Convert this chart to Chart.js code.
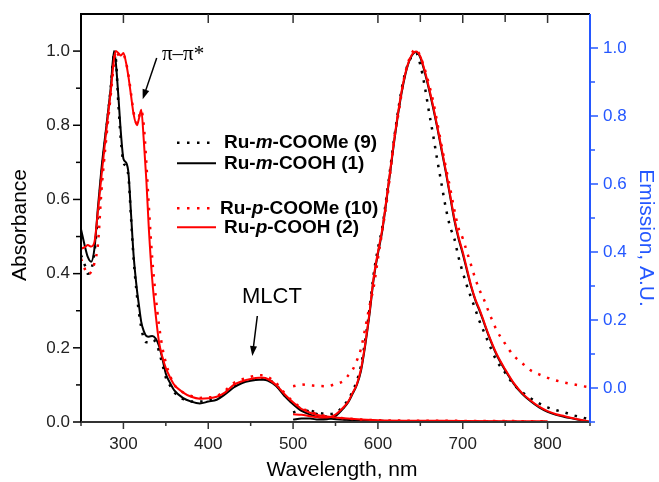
<!DOCTYPE html>
<html>
<head>
<meta charset="utf-8">
<script src="https://cdn.jsdelivr.net/npm/chart.js@4"></script>
<style>
  html, body { margin: 0; padding: 0; background: #fff; }
  canvas { display: block; }
</style>
</head>
<body>
<canvas id="spectraChart" width="659" height="482"></canvas>
<script>
// absorbance spectra (left axis)
const absWavelength = [250, 255, 258, 262, 266, 270, 274, 280, 285, 289, 291, 294, 297, 300, 303, 306, 309, 312, 316, 318, 321, 324, 327, 330, 334, 338, 342, 346, 350, 355, 360, 370, 380, 390, 400, 410, 420, 430, 440, 450, 460, 465, 470, 480, 490, 500, 510, 520, 530, 540, 560, 600, 700, 800];
const absMCOOMe = [0.45, 0.42, 0.40, 0.41, 0.46, 0.56, 0.66, 0.79, 0.90, 0.99, 0.98, 0.86, 0.76, 0.70, 0.69, 0.66, 0.55, 0.44, 0.34, 0.30, 0.255, 0.225, 0.215, 0.215, 0.222, 0.215, 0.19, 0.155, 0.12, 0.098, 0.08, 0.062, 0.055, 0.055, 0.058, 0.065, 0.08, 0.098, 0.108, 0.114, 0.117, 0.117, 0.115, 0.10, 0.072, 0.05, 0.035, 0.028, 0.02, 0.014, 0.008, 0.003, 0.001, 0.0];
const absMCOOH = [0.52, 0.47, 0.445, 0.432, 0.47, 0.58, 0.68, 0.80, 0.90, 1.0, 0.97, 0.88, 0.78, 0.71, 0.70, 0.67, 0.56, 0.45, 0.355, 0.32, 0.27, 0.245, 0.232, 0.23, 0.232, 0.225, 0.205, 0.17, 0.13, 0.105, 0.085, 0.065, 0.055, 0.05, 0.055, 0.06, 0.075, 0.093, 0.105, 0.111, 0.114, 0.114, 0.112, 0.097, 0.07, 0.048, 0.03, 0.02, 0.013, 0.01, 0.006, 0.003, 0.001, 0.0];
const absPCOOMe = [0.44, 0.41, 0.398, 0.405, 0.43, 0.48, 0.62, 0.77, 0.88, 0.97, 1.0, 0.99, 0.985, 0.99, 0.97, 0.935, 0.885, 0.835, 0.805, 0.82, 0.84, 0.80, 0.70, 0.58, 0.44, 0.34, 0.26, 0.20, 0.16, 0.125, 0.10, 0.08, 0.07, 0.065, 0.066, 0.07, 0.085, 0.105, 0.115, 0.122, 0.126, 0.126, 0.122, 0.105, 0.078, 0.055, 0.038, 0.028, 0.02, 0.016, 0.01, 0.005, 0.003, 0.002];
const absPCOOH = [0.467, 0.472, 0.477, 0.473, 0.487, 0.57, 0.66, 0.79, 0.89, 0.98, 1.0, 0.995, 0.988, 0.995, 0.97, 0.93, 0.88, 0.83, 0.80, 0.815, 0.842, 0.76, 0.653, 0.52, 0.383, 0.29, 0.215, 0.175, 0.145, 0.12, 0.10, 0.08, 0.068, 0.063, 0.064, 0.068, 0.08, 0.10, 0.11, 0.116, 0.119, 0.119, 0.116, 0.10, 0.075, 0.053, 0.035, 0.025, 0.018, 0.015, 0.01, 0.005, 0.003, 0.002];

// emission spectra (right axis)
const emWavelength = [500, 510, 520, 530, 540, 550, 560, 565, 570, 575, 580, 585, 590, 595, 600, 605, 610, 615, 620, 625, 630, 635, 640, 645, 650, 655, 660, 665, 670, 675, 680, 685, 690, 695, 700, 705, 710, 715, 720, 725, 730, 740, 750, 760, 770, 780, 790, 800, 810, 820, 830, 840, 850];
const emMCOOMe = [-0.072, -0.065, -0.067, -0.073, -0.077, -0.074, -0.05, -0.035, -0.01, 0.02, 0.065, 0.14, 0.23, 0.335, 0.41, 0.47, 0.56, 0.655, 0.75, 0.835, 0.905, 0.95, 0.975, 0.985, 0.95, 0.89, 0.815, 0.745, 0.67, 0.60, 0.53, 0.475, 0.44, 0.385, 0.34, 0.30, 0.265, 0.23, 0.195, 0.165, 0.135, 0.08, 0.045, 0.01, -0.012, -0.03, -0.045, -0.057, -0.065, -0.072, -0.08, -0.086, -0.093];
const emMCOOH = [-0.093, -0.09, -0.09, -0.093, -0.092, -0.083, -0.058, -0.042, -0.018, 0.008, 0.05, 0.125, 0.215, 0.32, 0.395, 0.46, 0.55, 0.645, 0.74, 0.825, 0.895, 0.948, 0.978, 0.988, 0.972, 0.93, 0.88, 0.825, 0.765, 0.70, 0.635, 0.565, 0.495, 0.44, 0.395, 0.345, 0.297, 0.257, 0.226, 0.192, 0.157, 0.097, 0.052, 0.013, -0.017, -0.039, -0.057, -0.07, -0.079, -0.085, -0.09, -0.095, -0.1];
const emPCOOMe = [0.005, 0.01, 0.008, 0.006, 0.005, 0.012, 0.022, 0.037, 0.053, 0.08, 0.115, 0.175, 0.24, 0.297, 0.38, 0.46, 0.54, 0.64, 0.745, 0.818, 0.90, 0.952, 0.985, 0.997, 0.975, 0.94, 0.895, 0.845, 0.78, 0.715, 0.65, 0.59, 0.525, 0.47, 0.44, 0.40, 0.36, 0.32, 0.287, 0.26, 0.228, 0.17, 0.13, 0.095, 0.073, 0.052, 0.04, 0.03, 0.022, 0.016, 0.011, 0.006, 0.002];
const emPCOOH = [-0.077, -0.079, -0.083, -0.086, -0.087, -0.078, -0.055, -0.04, -0.015, 0.01, 0.055, 0.13, 0.22, 0.326, 0.40, 0.465, 0.555, 0.65, 0.745, 0.83, 0.90, 0.95, 0.98, 0.99, 0.975, 0.935, 0.885, 0.83, 0.769, 0.705, 0.64, 0.57, 0.50, 0.445, 0.40, 0.35, 0.30, 0.26, 0.23, 0.195, 0.16, 0.10, 0.055, 0.015, -0.015, -0.037, -0.055, -0.068, -0.077, -0.083, -0.089, -0.094, -0.099];

// axis ticks
const xTicks = [300, 400, 500, 600, 700, 800];
const xMinorTicks = [250, 350, 450, 550, 650, 750, 850];
const absTicks = [0.0, 0.2, 0.4, 0.6, 0.8, 1.0];
const absMinorTicks = [0.1, 0.3, 0.5, 0.7, 0.9];
const emTicks = [0.0, 0.2, 0.4, 0.6, 0.8, 1.0];
const emMinorTicks = [-0.1, 0.1, 0.3, 0.5, 0.7, 0.9];

const FONT = "'Liberation Sans', Arial, sans-serif";
const BLUE = '#2457ff';

function pts(xs, ys) {
    return xs.map((x, i) => ({ x: x, y: ys[i] }));
}

function line(data, color, dotted, axis, order) {
    return {
        data: data,
        yAxisID: axis,
        borderColor: color,
        borderWidth: dotted ? 2.5 : 2,
        borderDash: dotted ? [2.5, 7] : [],
        pointRadius: 0,
        fill: false,
        cubicInterpolationMode: 'monotone',
        order: order
    };
}

const datasets = [
    line(pts(absWavelength, absMCOOMe), '#000', true, 'y', 8),
    line(pts(emWavelength, emMCOOMe), '#000', true, 'y2', 7),
    line(pts(absWavelength, absMCOOH), '#000', false, 'y', 6),
    line(pts(emWavelength, emMCOOH), '#000', false, 'y2', 5),
    line(pts(absWavelength, absPCOOMe), '#ff0000', true, 'y', 4),
    line(pts(emWavelength, emPCOOMe), '#ff0000', true, 'y2', 3),
    line(pts(absWavelength, absPCOOH), '#ff0000', false, 'y', 2),
    line(pts(emWavelength, emPCOOH), '#ff0000', false, 'y2', 1)
];

function fixedTicks(list) {
    return scale => { scale.ticks = list.map(v => ({ value: v })); };
}

// no extra room for half tick labels, so the plot box lands where the figure has it
function noPad(size, key) {
    return s => {
        s[key] = size;
        s.paddingTop = 0; s.paddingBottom = 0; s.paddingLeft = 0; s.paddingRight = 0;
    };
}

function arrow(ctx, x1, y1, x2, y2) {
    const a = Math.atan2(y2 - y1, x2 - x1);
    ctx.beginPath();
    ctx.moveTo(x1, y1);
    ctx.lineTo(x2 - 6 * Math.cos(a), y2 - 6 * Math.sin(a));
    ctx.stroke();
    ctx.beginPath();
    ctx.moveTo(x2, y2);
    ctx.lineTo(x2 - 10 * Math.cos(a) + 3.5 * Math.sin(a), y2 - 10 * Math.sin(a) - 3.5 * Math.cos(a));
    ctx.lineTo(x2 - 10 * Math.cos(a) - 3.5 * Math.sin(a), y2 - 10 * Math.sin(a) + 3.5 * Math.cos(a));
    ctx.closePath();
    ctx.fill();
}

// legend label with an italic letter in the middle
function legendText(ctx, x, y, pre, ital, post) {
    ctx.textBaseline = 'middle';
    ctx.textAlign = 'left';
    ctx.fillStyle = '#000';
    ctx.font = 'bold 19px ' + FONT;
    ctx.fillText(pre, x, y);
    x += ctx.measureText(pre).width;
    ctx.font = 'italic bold 19px ' + FONT;
    ctx.fillText(ital, x, y);
    x += ctx.measureText(ital).width;
    ctx.font = 'bold 19px ' + FONT;
    ctx.fillText(post, x, y);
}

const frame = {
    id: 'frame',
    afterDraw(chart) {
        const { ctx, chartArea: a, scales } = chart;
        const x = scales.x, y = scales.y, y2 = scales.y2;
        ctx.save();

        // axes lines
        ctx.lineWidth = 2;
        ctx.strokeStyle = '#000';
        ctx.beginPath();
        ctx.moveTo(a.left, a.bottom); ctx.lineTo(a.left, a.top); ctx.lineTo(a.right, a.top);
        ctx.stroke();
        ctx.strokeStyle = '#333';
        ctx.beginPath();
        ctx.moveTo(a.left, a.bottom); ctx.lineTo(a.right, a.bottom);
        ctx.stroke();

        // bottom ticks (out) and top ticks (in)
        ctx.lineWidth = 1.5;
        xTicks.forEach(v => {
            const px = x.getPixelForValue(v);
            ctx.beginPath(); ctx.moveTo(px, a.bottom); ctx.lineTo(px, a.bottom + 7); ctx.stroke();
            ctx.beginPath(); ctx.moveTo(px, a.top); ctx.lineTo(px, a.top + 9); ctx.stroke();
        });
        xMinorTicks.forEach(v => {
            const px = x.getPixelForValue(v);
            ctx.beginPath(); ctx.moveTo(px, a.bottom); ctx.lineTo(px, a.bottom + 4); ctx.stroke();
        });
        [650, 750].forEach(v => {
            const px = x.getPixelForValue(v);
            ctx.beginPath(); ctx.moveTo(px, a.top); ctx.lineTo(px, a.top + 8); ctx.stroke();
        });

        // left ticks
        ctx.strokeStyle = '#000';
        absTicks.forEach(v => {
            const py = y.getPixelForValue(v);
            ctx.beginPath(); ctx.moveTo(a.left, py); ctx.lineTo(a.left - 8, py); ctx.stroke();
        });
        absMinorTicks.forEach(v => {
            const py = y.getPixelForValue(v);
            ctx.beginPath(); ctx.moveTo(a.left, py); ctx.lineTo(a.left - 5, py); ctx.stroke();
        });

        // right axis in blue
        ctx.strokeStyle = BLUE;
        ctx.lineWidth = 2;
        ctx.beginPath(); ctx.moveTo(a.right, a.top); ctx.lineTo(a.right, a.bottom + 1); ctx.stroke();
        ctx.lineWidth = 1.5;
        emTicks.forEach(v => {
            const py = y2.getPixelForValue(v);
            ctx.beginPath(); ctx.moveTo(a.right, py); ctx.lineTo(a.right + 8, py); ctx.stroke();
        });
        emMinorTicks.forEach(v => {
            const py = y2.getPixelForValue(v);
            ctx.beginPath(); ctx.moveTo(a.right, py); ctx.lineTo(a.right + 5, py); ctx.stroke();
        });

        // axis titles
        ctx.fillStyle = '#000';
        ctx.font = '21px ' + FONT;
        ctx.textAlign = 'center';
        ctx.textBaseline = 'middle';
        ctx.fillText('Wavelength, nm', 342, 470);
        ctx.save();
        ctx.translate(20, 225);
        ctx.rotate(-Math.PI / 2);
        ctx.fillText('Absorbance', 0, 0);
        ctx.restore();
        ctx.save();
        ctx.fillStyle = BLUE;
        ctx.translate(646, 238);
        ctx.rotate(Math.PI / 2);
        ctx.fillText('Emission, A.U.', 0, 0);
        ctx.restore();

        // legend
        const rows = [
            { y: 142.7, color: '#000', dotted: true, end: 213, tx: 224, pre: 'Ru-', ital: 'm', post: '-COOMe (9)' },
            { y: 163.3, color: '#000', dotted: false, end: 216, tx: 224, pre: 'Ru-', ital: 'm', post: '-COOH (1)' },
            { y: 208.3, color: '#ff0000', dotted: true, end: 213, tx: 220, pre: 'Ru-', ital: 'p', post: '-COOMe (10)' },
            { y: 227.3, color: '#ff0000', dotted: false, end: 216, tx: 224, pre: 'Ru-', ital: 'p', post: '-COOH (2)' }
        ];
        rows.forEach(r => {
            ctx.strokeStyle = r.color;
            ctx.lineWidth = r.dotted ? 2.5 : 2;
            ctx.setLineDash(r.dotted ? [2.5, 7.5] : []);
            ctx.beginPath(); ctx.moveTo(177, r.y); ctx.lineTo(r.end, r.y); ctx.stroke();
            ctx.setLineDash([]);
            legendText(ctx, r.tx, r.y, r.pre, r.ital, r.post);
        });

        // annotations
        ctx.fillStyle = '#000';
        ctx.strokeStyle = '#000';
        ctx.lineWidth = 1.5;
        ctx.textAlign = 'left';
        ctx.font = "21px 'Liberation Serif', 'DejaVu Serif', serif";
        ctx.fillText('\u03c0\u2013\u03c0*', 162, 54);
        arrow(ctx, 156.7, 58, 142.7, 99.3);
        ctx.font = '22px ' + FONT;
        ctx.fillText('MLCT', 242, 297);
        arrow(ctx, 257.3, 316, 252.3, 356);

        ctx.restore();
    }
};

const ctx = document.getElementById('spectraChart');
new Chart(ctx, {
    type: 'line',
    data: { datasets: datasets },
    options: {
        responsive: false,
        animation: false,
        layout: { padding: { top: 14, left: 0, right: 0, bottom: 0 } },
        plugins: { legend: { display: false }, tooltip: { enabled: false } },
        scales: {
            x: {
                type: 'linear',
                min: 250,
                max: 850,
                afterBuildTicks: fixedTicks(xTicks),
                afterFit: noPad(60, 'height'),
                grid: { display: false, drawTicks: false, tickLength: 0 },
                border: { display: false },
                ticks: { padding: 12, color: '#222', font: { family: FONT, size: 17 }, callback: v => String(v) }
            },
            y: {
                position: 'left',
                min: 0,
                max: 1.1,
                afterBuildTicks: fixedTicks(absTicks),
                afterFit: noPad(81, 'width'),
                grid: { display: false, drawTicks: false, tickLength: 0 },
                border: { display: false },
                ticks: { padding: 11, color: '#222', font: { family: FONT, size: 17 }, callback: v => v.toFixed(1) }
            },
            y2: {
                position: 'right',
                min: -0.1,
                max: 1.1,
                afterBuildTicks: fixedTicks(emTicks),
                afterFit: noPad(69, 'width'),
                grid: { display: false, drawTicks: false, tickLength: 0 },
                border: { display: false },
                ticks: { padding: 13, color: BLUE, font: { family: FONT, size: 17 }, callback: v => v.toFixed(1) }
            }
        }
    },
    plugins: [frame]
});
</script>
</body>
</html>
